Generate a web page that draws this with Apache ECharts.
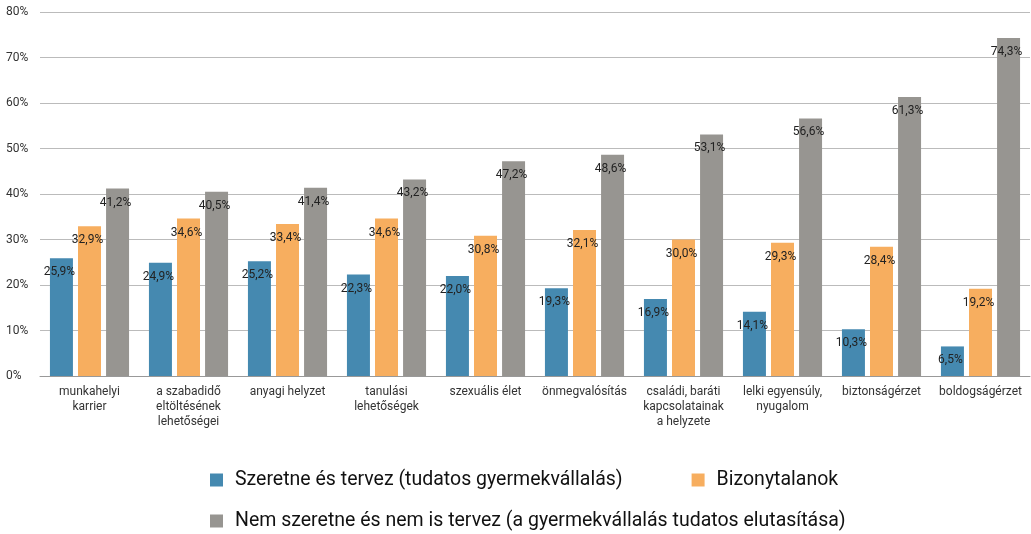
<!DOCTYPE html>
<html>
<head>
<meta charset="utf-8">
<script src="https://cdn.jsdelivr.net/npm/echarts@6/dist/echarts.min.js"></script>
<style>
  html, body { margin: 0; padding: 0; background: #fff; }
  #chart { width: 1031px; height: 534px; }
</style>
</head>
<body>
<div id="chart"></div>
<script>
/* 数据 */
const categories = ['munkahelyi\nkarrier', 'a szabadidő\neltöltésének\nlehetőségei', 'anyagi helyzet', 'tanulási\nlehetőségek',
    'szexuális élet', 'önmegvalósítás', 'családi, baráti\nkapcsolatainak\na helyzete', 'lelki egyensúly,\nnyugalom',
    'biztonságérzet', 'boldogságérzet'];
const seriesNames = ['Szeretne és tervez (tudatos gyermekvállalás)', 'Bizonytalanok',
    'Nem szeretne és nem is tervez (a gyermekvállalás tudatos elutasítása)'];
const planned = [25.9, 24.9, 25.2, 22.3, 22.0, 19.3, 16.9, 14.1, 10.3, 6.5];
const unsure = [32.9, 34.6, 33.4, 34.6, 30.8, 32.1, 30.0, 29.3, 28.4, 19.2];
const rejects = [41.2, 40.5, 41.4, 43.2, 47.2, 48.6, 53.1, 56.6, 61.3, 74.3];
const yTicks = [0, 10, 20, 30, 40, 50, 60, 70, 80];

const colors = ['#4589B0', '#F7AE5F', '#979591'];
const font = 'Roboto';

// 柱子样式
function makeSeries(name, data, color) {
    return {
        type: 'bar',
        name: name,
        data: data,
        barWidth: 23,
        barGap: '22%',
        itemStyle: { color: color },
        label: {
            show: true,
            position: 'insideTop',
            distance: 8,
            offset: [-2, 0],
            color: '#222',
            fontSize: 12,
            fontFamily: font,
            formatter: p => p.value.toFixed(1).replace('.', ',') + '%'
        }
    };
}

var chart = echarts.init(document.getElementById('chart'));
var legendText = { fontSize: 19.5, color: '#111', fontFamily: font, padding: [0, 0, 0, 7] };
var option = {
    backgroundColor: '#fff',
    animation: false,
    textStyle: { fontFamily: font },
    legend: [{
        data: seriesNames.slice(0, 2),
        top: 470,
        left: 210,
        padding: 0,
        itemWidth: 13,
        itemHeight: 13,
        itemGap: 69,
        icon: 'rect',
        textStyle: legendText
    }, {
        data: seriesNames.slice(2),
        top: 511,
        left: 210,
        padding: 0,
        itemWidth: 13,
        itemHeight: 13,
        icon: 'rect',
        textStyle: legendText
    }],
    grid: {
        top: 12,
        left: 40,
        right: 1,
        bottom: 158
    },
    xAxis: {
        type: 'category',
        data: categories,
        axisTick: { show: false },
        axisLine: { lineStyle: { color: '#999', width: 1 } },
        axisLabel: {
            color: '#333',
            fontSize: 12,
            fontFamily: font,
            lineHeight: 15,
            margin: 8,
            interval: 0
        }
    },
    yAxis: {
        type: 'value',
        min: yTicks[0],
        max: yTicks[yTicks.length - 1],
        interval: 10,
        axisLine: { show: false },
        axisTick: { show: false },
        axisLabel: {
            color: '#333',
            fontSize: 12,
            fontFamily: font,
            align: 'left',
            margin: 34,
            formatter: v => v + '%'
        },
        splitLine: { lineStyle: { color: '#BBBBBB', width: 1 } }
    },
    series: [
        makeSeries(seriesNames[0], planned, colors[0]),
        makeSeries(seriesNames[1], unsure, colors[1]),
        makeSeries(seriesNames[2], rejects, colors[2])
    ]
};
chart.setOption(option);
</script>
</body>
</html>
